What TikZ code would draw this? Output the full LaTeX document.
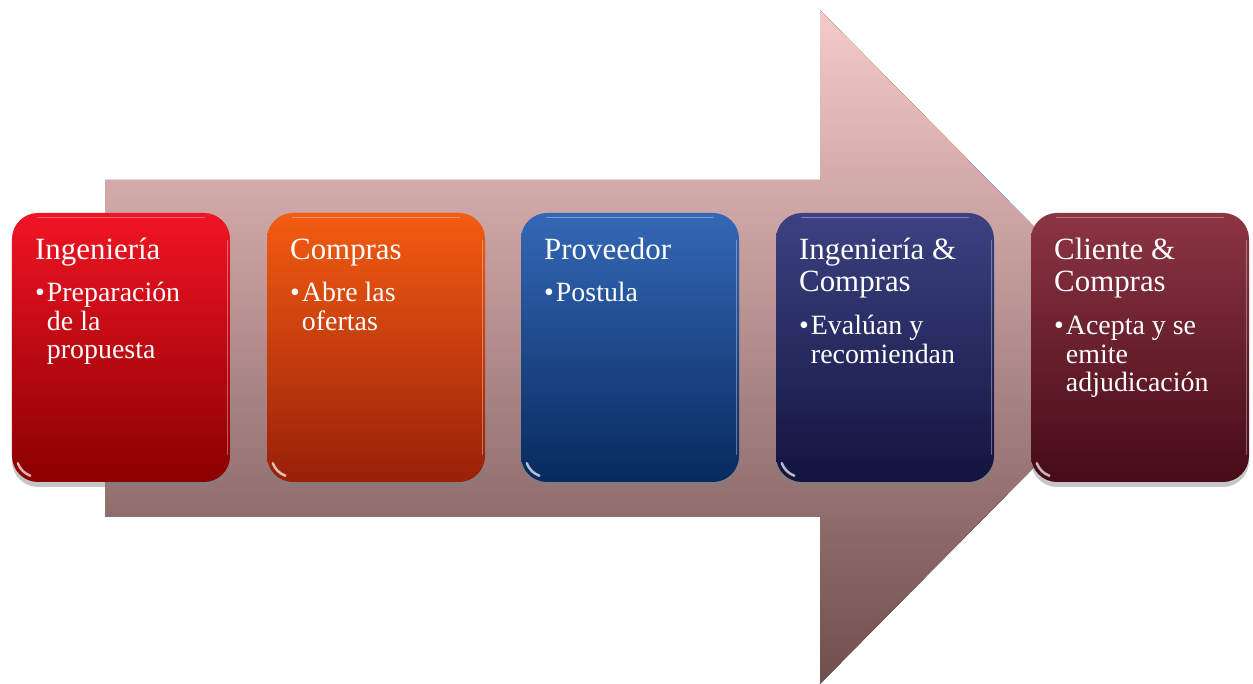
\documentclass[tikz,border=0pt]{standalone}
\usepackage{fontspec}
\setmainfont{Liberation Serif}
\usetikzlibrary{shadows}
\definecolor{arrowtop}{HTML}{F6CACA}
\definecolor{arrowbot}{HTML}{6E4E4E}
\definecolor{ingtop}{HTML}{F01424}
\definecolor{ingbot}{HTML}{8A0000}
\definecolor{comtop}{HTML}{F45C12}
\definecolor{combot}{HTML}{982008}
\definecolor{provtop}{HTML}{3468B6}
\definecolor{provbot}{HTML}{072A5E}
\definecolor{evaltop}{HTML}{3C4282}
\definecolor{evalbot}{HTML}{12143E}
\definecolor{clitop}{HTML}{8C3444}
\definecolor{clibot}{HTML}{460C16}
\newcommand{\lineas}[1]{\begin{tabular}[t]{@{}l@{}}#1\end{tabular}}

\begin{document}
\begin{tikzpicture}[x=1bp,y=1bp]
    %
    % `stage' is the rounded box of each step.
    % `title' and `item' are the white texts inside a box.
    % `glare' gives the glossy highlights.
    \tikzstyle{stage} = [minimum width=218bp,minimum height=269bp,rounded corners=26bp,drop shadow={opacity=0.45,shadow xshift=0bp,shadow yshift=-5bp}]
    \tikzstyle{title} = [anchor=base west,inner sep=0pt,text=white,font=\fontsize{31}{32}\selectfont]
    \tikzstyle{item} = [anchor=base west,inner sep=0pt,text=white,font=\fontsize{28}{28.5}\selectfont]
    \tikzstyle{glare} = [white,line width=1.4bp,opacity=0.35,line cap=round]
    \useasboundingbox (0,0) rectangle (1253,684);
    %
    % Big arrow
    \fill[top color=arrowtop,bottom color=arrowbot] (105,504) -- (820,504) -- (820,674) -- (1153,337) -- (820,0) -- (820,167) -- (105,167) -- cycle;
    %
    % Boxes
    \node[stage,top color=ingtop,bottom color=ingbot] (b1) at (121,336.5) {};
    \node[stage,top color=comtop,bottom color=combot] (b2) at (376,336.5) {};
    \node[stage,top color=provtop,bottom color=provbot] (b3) at (630,336.5) {};
    \node[stage,top color=evaltop,bottom color=evalbot] (b4) at (885,336.5) {};
    \node[stage,top color=clitop,bottom color=clibot] (b5) at (1140,336.5) {};
    %
    % Highlights
    \foreach \b in {b1,b2,b3,b4,b5} {
        \draw[glare] ([shift={(26,-5)}]\b.north west) -- ([shift={(-26,-5)}]\b.north east);
        \draw[glare] ([shift={(-3,-28)}]\b.north east) -- ([shift={(-3,28)}]\b.south east);
        \draw[glare,line width=2.5bp,opacity=0.7] ([shift={(6,19)}]\b.south west) arc[start angle=200,end angle=250,radius=21];
    }
    %
    % Texts
    \node[title] (t1) at (35,424) {Ingeniería};
    \node[item] (p1) at (35,382) {\textbullet\hspace{2bp}\lineas{Preparación\\de la\\propuesta}};
    \node[title] (t2) at (290,424) {Compras};
    \node[item] (p2) at (290,382) {\textbullet\hspace{2bp}\lineas{Abre las\\ofertas}};
    \node[title] (t3) at (544,424) {Proveedor};
    \node[item] (p3) at (544,382) {\textbullet\hspace{2bp}\lineas{Postula}};
    \node[title] (t4) at (799,424) {\lineas{Ingeniería \&\\Compras}};
    \node[item] (p4) at (799,349) {\textbullet\hspace{2bp}\lineas{Evalúan y\\recomiendan}};
    \node[title] (t5) at (1054,424) {\lineas{Cliente \&\\Compras}};
    \node[item] (p5) at (1054,349) {\textbullet\hspace{2bp}\lineas{Acepta y se\\emite\\adjudicación}};
    %
\end{tikzpicture}
\end{document}
